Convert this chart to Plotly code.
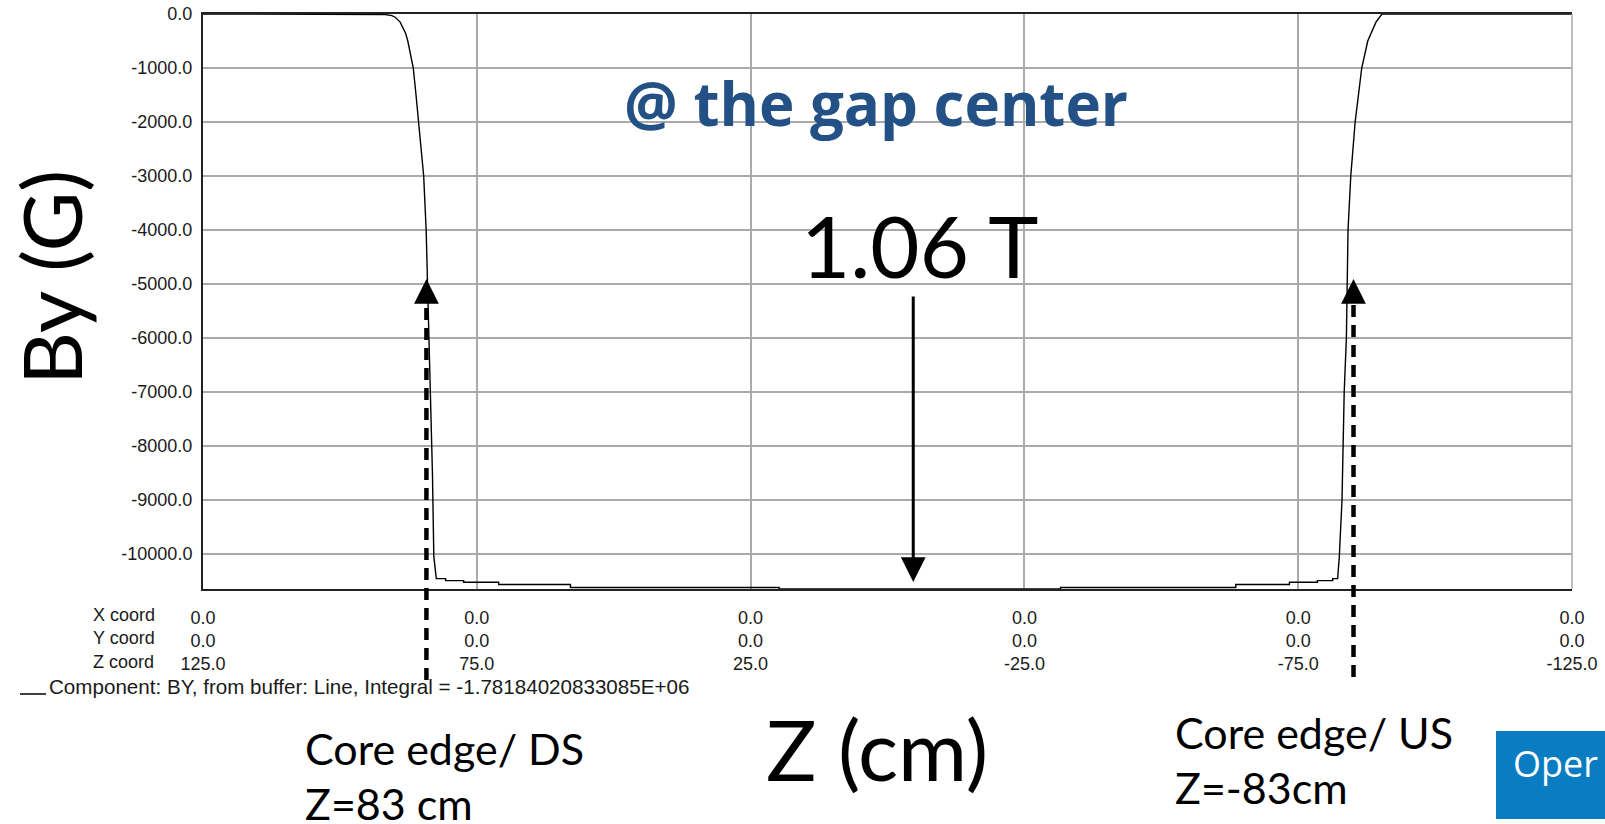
import plotly.graph_objects as go

# ---- data ----
z_cm = [125.0, 95.7, 91.7, 90.5, 89.9, 89.0, 88.0, 87.6, 86.6, 86.1, 85.6, 84.7, 84.25, 84.0,
        83.7, 83.4, 83.1, 82.85, 82.4, 80.7, 80.7, 77.4, 77.4, 71.0, 71.0, 57.9, 57.9, 19.8,
        19.8, -31.6, -31.6, -63.6, -63.6, -73.4, -73.4, -78.5, -78.5, -81.3, -81.3, -82.2,
        -82.5, -83.0, -83.4, -83.8, -84.0, -84.1, -84.6, -85.4, -86.0, -86.6, -87.7, -89.2,
        -90.3, -125.0]
by_gauss = [0, 0, -10, -30, -60, -150, -355, -500, -1000, -1500, -2000, -3000, -4000, -5000,
            -6000, -7000, -8500, -10045, -10456, -10456, -10493, -10493, -10524, -10524, -10566,
            -10566, -10620, -10620, -10645, -10645, -10620, -10620, -10566, -10566, -10524,
            -10524, -10493, -10493, -10456, -10456, -10060, -9000, -7000, -6000, -5000, -4000,
            -3000, -2000, -1500, -1000, -500, -150, 0, 0]

y_tick_vals = [0, -1000, -2000, -3000, -4000, -5000, -6000, -7000, -8000, -9000, -10000]
y_tick_labels = ["0.0", "-1000.0", "-2000.0", "-3000.0", "-4000.0", "-5000.0", "-6000.0",
                 "-7000.0", "-8000.0", "-9000.0", "-10000.0"]
z_tick_vals = [125, 75, 25, -25, -75, -125]
x_coord_labels = ["0.0", "0.0", "0.0", "0.0", "0.0", "0.0"]
y_coord_labels = ["0.0", "0.0", "0.0", "0.0", "0.0", "0.0"]
z_coord_labels = ["125.0", "75.0", "25.0", "-25.0", "-75.0", "-125.0"]

edge_ds_z = 84.2
edge_us_z = -85.1
center_arrow_z = -4.7

# ---- layout geometry ----
W, H = 1605, 824
ML, MR, MT, MB = 203, 33, 14, 235
PW = W - ML - MR
PH = H - MT - MB


def xp(px):
    return (px - ML) / PW


def yp(py):
    return (H - MB - py) / PH


tick_text = [f"{a}<br>{b}<br>{c}" for a, b, c in zip(x_coord_labels, y_coord_labels, z_coord_labels)]

fig = go.Figure()
fig.add_trace(go.Scatter(x=z_cm, y=by_gauss, mode="lines",
                         line=dict(color="black", width=1.4), hoverinfo="skip"))

tick_font = dict(family="Liberation Sans, Arial, sans-serif", size=18, color="#1a1a1a")
big_font = "Lato, Carlito, Calibri, sans-serif"

fig.update_layout(
    width=W, height=H,
    margin=dict(l=ML, r=MR, t=MT, b=MB, pad=0, autoexpand=False),
    paper_bgcolor="white", plot_bgcolor="white",
    showlegend=False,
    xaxis=dict(range=[125, -125], tickvals=z_tick_vals, ticktext=tick_text, automargin=False,
               showgrid=True, gridcolor="#aaaaaa", gridwidth=1.5, zeroline=False,
               showline=True, linecolor="#222222", linewidth=2, mirror=True,
               ticks="", tickfont=tick_font, ticklabelstandoff=11),
    yaxis=dict(range=[-10648, 0], tickvals=y_tick_vals, ticktext=y_tick_labels, automargin=False,
               showgrid=True, gridcolor="#aaaaaa", gridwidth=1.5, zeroline=False,
               showline=True, linecolor="#222222", linewidth=2,
               ticks="", tickfont=tick_font, ticklabelstandoff=5),
)

shapes = []
# right border (gray, like grid)
shapes.append(dict(type="line", xref="paper", yref="paper", x0=1, x1=1, y0=0, y1=1,
                   line=dict(color="#aaaaaa", width=1.5)))
# dashed core-edge lines
for zc, ybot in [(edge_ds_z, 680), (edge_us_z, 677)]:
    shapes.append(dict(type="line", xref="x", yref="paper", x0=zc, x1=zc,
                       y0=yp(ybot), y1=yp(298),
                       line=dict(color="black", width=4.5, dash="12px,8px")))
# legend sample line
shapes.append(dict(type="line", xref="paper", yref="paper", x0=xp(20), x1=xp(46),
                   y0=yp(694), y1=yp(694), line=dict(color="black", width=1.5)))
# blue box bottom right
shapes.append(dict(type="rect", xref="paper", yref="paper", x0=xp(1496), x1=xp(1615),
                   y0=yp(731), y1=yp(819), fillcolor="#0a7cc1", line=dict(width=0)))
fig.update_layout(shapes=shapes)

ann = []
# arrowheads for dashed lines
for zc in [edge_ds_z, edge_us_z]:
    ann.append(dict(x=zc, y=yp(279), xref="x", yref="paper", text="", showarrow=True,
                    ax=0, ay=24, arrowhead=2, arrowwidth=4.5, arrowsize=1.1,
                    arrowcolor="black"))
# center arrow
ann.append(dict(x=center_arrow_z, y=yp(582), xref="x", yref="paper", text="", showarrow=True,
                ax=0, ay=-287, arrowhead=2, arrowwidth=3, arrowsize=1.65, arrowcolor="black"))
# texts
ann.append(dict(x=xp(876), y=yp(103.4), xref="paper", yref="paper", text="@ the gap center",
                showarrow=False, xanchor="center", yanchor="middle",
                font=dict(family="Open Sans, sans-serif", size=60, color="#245185", weight="bold")))
ann.append(dict(x=xp(920), y=yp(245), xref="paper", yref="paper", text="1.06 T",
                showarrow=False, xanchor="center", yanchor="middle",
                font=dict(family=big_font, size=85, color="black")))
ann.append(dict(x=xp(50), y=yp(278), xref="paper", yref="paper", text="By (G)",
                showarrow=False, xanchor="center", yanchor="middle", textangle=-90,
                font=dict(family=big_font, size=82, color="black")))
ann.append(dict(x=xp(877), y=yp(748), xref="paper", yref="paper", text="Z (cm)",
                showarrow=False, xanchor="center", yanchor="middle",
                font=dict(family=big_font, size=84, color="black")))
core_font = dict(family=big_font, size=43, color="black")
ann.append(dict(x=xp(303), y=yp(748), xref="paper", yref="paper", text="Core edge/ DS",
                showarrow=False, xanchor="left", yanchor="middle", font=core_font))
ann.append(dict(x=xp(303), y=yp(803), xref="paper", yref="paper", text="Z=83 cm",
                showarrow=False, xanchor="left", yanchor="middle", font=core_font))
ann.append(dict(x=xp(1173), y=yp(732), xref="paper", yref="paper", text="Core edge/ US",
                showarrow=False, xanchor="left", yanchor="middle", font=core_font))
ann.append(dict(x=xp(1173), y=yp(787), xref="paper", yref="paper", text="Z=-83cm",
                showarrow=False, xanchor="left", yanchor="middle", font=core_font))
ann.append(dict(x=xp(1511), y=yp(763), xref="paper", yref="paper", text="Oper",
                showarrow=False, xanchor="left", yanchor="middle",
                font=dict(family="Open Sans, sans-serif", size=36, color="white")))
# coordinate row labels
ann.append(dict(x=xp(91), y=yp(603), xref="paper", yref="paper",
                text="X coord<br>Y coord<br>Z coord", align="left",
                showarrow=False, xanchor="left", yanchor="top", font=tick_font))
# legend text
ann.append(dict(x=xp(47), y=yp(686), xref="paper", yref="paper",
                text="Component: BY, from buffer: Line, Integral = -1.78184020833085E+06",
                showarrow=False, xanchor="left", yanchor="middle",
                font=dict(family="Liberation Sans, Arial, sans-serif", size=20.6, color="#1a1a1a")))
fig.update_layout(annotations=ann)

fig.write_html("out.html")
